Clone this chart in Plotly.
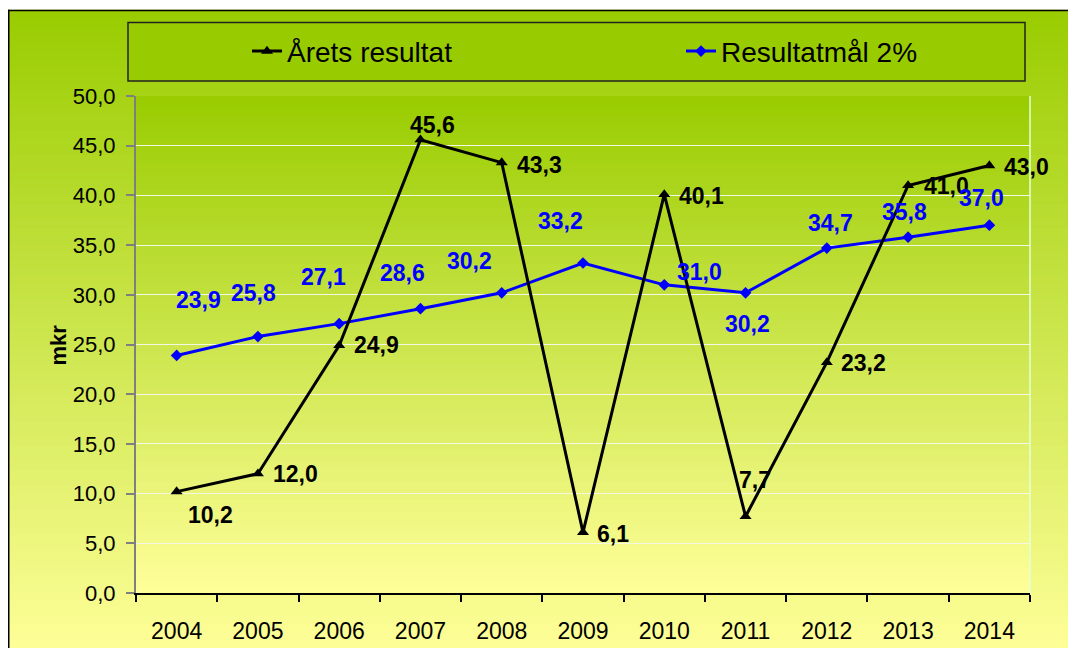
import plotly.graph_objects as go

# ---- data ----
years = ["2004", "2005", "2006", "2007", "2008", "2009", "2010", "2011", "2012", "2013", "2014"]
arets_resultat = [10.2, 12.0, 24.9, 45.6, 43.3, 6.1, 40.1, 7.7, 23.2, 41.0, 43.0]
resultatmal = [23.9, 25.8, 27.1, 28.6, 30.2, 33.2, 31.0, 30.2, 34.7, 35.8, 37.0]
y_ticks = [0, 5, 10, 15, 20, 25, 30, 35, 40, 45, 50]

# label offsets (px) – styling only
black_dx = [34, 38, 37, 12, 38, 30, 37, 9, 37, 38, 37]
black_dy = [-23, 0, 0, 15, -2, -2, -2, 36, -1, -1, -1]
blue_dx = [22, -4, -16, -18, -32, -23, 35, 2, 4, -4, -8]
blue_dy = [55, 44, 47, 36, 32, 42, 13, -31, 25, 25, 27]

W, H = 1076, 648
OFF = 8  # page body margin
# plot area in page pixels
PL, PR, PT, PB = 136, 1030, 96, 597
L, R, T, B = PL - OFF, PR - OFF, PT - OFF, PB - OFF
PW, PH = R - L, B - T


def px_x(px):  # page px -> paper
    return (px - OFF - L) / PW


def px_y(py):
    return (B - (py - OFF)) / PH


def grad(f):
    c0 = (153, 204, 0)
    c1 = (255, 255, 153)
    return "rgb(%d,%d,%d)" % tuple(round(a + (b - a) * f) for a, b in zip(c0, c1))


FONT = "Liberation Sans, Arial, sans-serif"
shapes = []
N = 80
# outer chart area gradient
top_o, bot_o = 9, 660
for i in range(N):
    y0 = top_o + (bot_o - top_o) * i / N
    y1 = top_o + (bot_o - top_o) * (i + 1) / N + 1
    shapes.append(dict(type="rect", xref="paper", yref="paper", layer="below",
                       x0=px_x(8), x1=px_x(W + 20), y0=px_y(y1), y1=px_y(y0),
                       fillcolor=grad((i + 0.5) / N), line=dict(width=0)))
# plot area gradient
for i in range(N):
    y0 = PT + (PB - PT) * i / N
    y1 = min(PT + (PB - PT) * (i + 1) / N + 1, PB)
    shapes.append(dict(type="rect", xref="paper", yref="paper", layer="below",
                       x0=0, x1=1, y0=px_y(y1), y1=px_y(y0),
                       fillcolor=grad((i + 0.5) / N), line=dict(width=0)))
# outer border
shapes.append(dict(type="line", xref="paper", yref="paper", layer="below",
                   x0=px_x(8.75), x1=px_x(8.75), y0=px_y(9), y1=px_y(H + 20),
                   line=dict(color="black", width=1.5)))
shapes.append(dict(type="line", xref="paper", yref="paper", layer="below",
                   x0=px_x(8), x1=px_x(W + 20), y0=px_y(9.75), y1=px_y(9.75),
                   line=dict(color="black", width=1.5)))
# legend box
shapes.append(dict(type="rect", xref="paper", yref="paper", layer="below",
                   x0=px_x(128), x1=px_x(1025), y0=px_y(81), y1=px_y(22),
                   fillcolor="#99cc00", line=dict(color="#222222", width=1.5)))
# right plot border
shapes.append(dict(type="line", xref="paper", yref="paper", layer="below",
                   x0=1, x1=1, y0=0, y1=1,
                   line=dict(color="#e4ffd8", width=1.5)))

fig = go.Figure()
fig.add_trace(go.Scatter(
    x=years, y=resultatmal, name="Resultatmål 2%", mode="lines+markers",
    line=dict(color="#0000ff", width=3),
    marker=dict(symbol="diamond", size=9, color="#0000ff"),
    legend="legend2"))
fig.add_trace(go.Scatter(
    x=years, y=arets_resultat, name="Årets resultat", mode="lines+markers",
    line=dict(color="black", width=3),
    marker=dict(symbol="triangle-up", size=10.5, color="black"),
    legend="legend"))

annotations = []
for i, yr in enumerate(years):
    annotations.append(dict(x=i, y=arets_resultat[i], xref="x", yref="y",
                            text=("%.1f" % arets_resultat[i]).replace(".", ","),
                            showarrow=False, xshift=black_dx[i], yshift=black_dy[i],
                            font=dict(family=FONT, size=23, color="black", weight="bold")))
    annotations.append(dict(x=i, y=resultatmal[i], xref="x", yref="y",
                            text=("%.1f" % resultatmal[i]).replace(".", ","),
                            showarrow=False, xshift=blue_dx[i], yshift=blue_dy[i],
                            font=dict(family=FONT, size=23, color="#0000ff", weight="bold")))
annotations.append(dict(x=px_x(44), y=px_y(347), xref="paper", yref="paper",
                        text="mkr", textangle=-90, showarrow=False,
                        font=dict(family=FONT, size=22, color="black", weight="bold")))

legend_common = dict(orientation="h", yanchor="middle", y=px_y(51), xanchor="left",
                     bgcolor="rgba(0,0,0,0)", borderwidth=0,
                     font=dict(family=FONT, size=28, color="black"))

fig.update_layout(
    width=W, height=H,
    margin=dict(l=L, r=W - R, t=T, b=H - B, pad=0),
    paper_bgcolor="white", plot_bgcolor="rgba(0,0,0,0)",
    separators=",.",
    font=dict(family=FONT, size=22, color="black"),
    showlegend=True,
    legend=dict(x=px_x(287 - 40), **legend_common),
    legend2=dict(x=px_x(721 - 40), **legend_common),
    shapes=shapes, annotations=annotations,
    xaxis=dict(type="category", range=[-0.5, 10.5], showgrid=False,
               showline=True, linecolor="black", linewidth=1.5,
               ticks="outside", tickson="boundaries", ticklen=7, tickcolor="black",
               tickwidth=1.5, ticklabelstandoff=17,
               tickfont=dict(family=FONT, size=23, color="black"), fixedrange=True),
    yaxis=dict(range=[0, 50], tickvals=y_ticks, tickformat=".1f",
               showgrid=True, gridcolor="#f2f8e4", gridwidth=1.2,
               showline=True, linecolor="#7f7f7f", linewidth=2,
               ticks="outside", ticklen=8, tickcolor="#7f7f7f", tickwidth=1.5,
               ticklabelstandoff=6, zeroline=False,
               tickfont=dict(family=FONT, size=22, color="black"), fixedrange=True),
)

fig.write_html("out.html")
